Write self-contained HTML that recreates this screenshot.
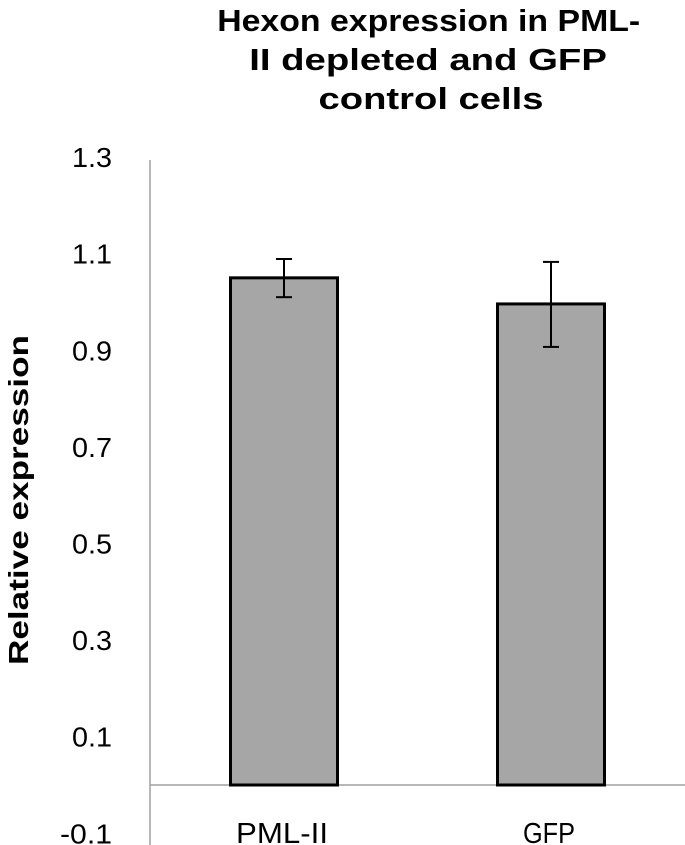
<!DOCTYPE html>
<html><head><meta charset="utf-8"><style>
body{margin:0;background:#fff;}
svg{display:block;font-family:"Liberation Sans",sans-serif;}
</style></head><body>
<svg id="chart" width="685" height="845">
<text font-weight="bold" font-size="31" text-anchor="middle">
<tspan x="433" y="31" textLength="423" lengthAdjust="spacingAndGlyphs">Hexon expression in PML-</tspan>
<tspan x="432" y="70" textLength="357" lengthAdjust="spacingAndGlyphs">II depleted and GFP</tspan>
<tspan x="431" y="109" textLength="225" lengthAdjust="spacingAndGlyphs">control cells</tspan>
</text>
<text font-weight="bold" font-size="28" text-anchor="middle" textLength="330" lengthAdjust="spacingAndGlyphs" transform="translate(28,500) rotate(-90)">Relative expression</text>
<g id="axes"></g><g id="bars"></g>
</svg>
<script>
const categories=["PML-II","GFP"];
const values=[1.05,0.996];
const errLow=[1.01,0.907];
const errHigh=[1.089,1.083];
const yTicks=[-0.1,0.1,0.3,0.5,0.7,0.9,1.1,1.3];
const tickLabels=["-0.1","0.1","0.3","0.5","0.7","0.9","1.1","1.3"];
const NS="http://www.w3.org/2000/svg";
const y=v=>785-v*483;
const x=i=>284+i*267;
const bw=107;
function mk(t,a,p){const e=document.createElementNS(NS,t);for(const k in a)e.setAttribute(k,a[k]);p.appendChild(e);return e;}
const ax=document.getElementById('axes'),bg=document.getElementById('bars');
const yl=mk('line',{x1:150,x2:150,y1:160,y2:845,stroke:'#a0a0a0','stroke-width':1.5},ax);


yTicks.forEach((t,i)=>{const lbl=tickLabels[i];const tx=mk('text',{x:112,y:y(t)+10,'text-anchor':'end','font-size':28,textLength:lbl.length>3?52:40,lengthAdjust:'spacingAndGlyphs'},ax);tx.textContent=lbl;

});
categories.forEach((c,i)=>{
const r=mk('rect',{x:x(i)-bw/2,y:y(values[i]),width:bw,height:y(0)-y(values[i]),fill:'#a6a6a6',stroke:'#000','stroke-width':3},bg);


const g=mk('g',{stroke:'#000','stroke-width':2},bg);


mk('line',{x1:x(i),x2:x(i),y1:y(errHigh[i]),y2:y(errLow[i])},g);
mk('line',{x1:x(i)-8,x2:x(i)+8,y1:y(errHigh[i]),y2:y(errHigh[i])},g);
mk('line',{x1:x(i)-8,x2:x(i)+8,y1:y(errLow[i]),y2:y(errLow[i])},g);
const t=mk('text',{x:x(i)-2,y:843,'text-anchor':'middle','font-size':29,textLength:c.length>3?92:52,lengthAdjust:'spacingAndGlyphs'},bg);t.textContent=c;


});
const zl=mk('line',{x1:150,x2:685,y1:y(0),y2:y(0),stroke:'#a0a0a0','stroke-width':1.5},ax);


</script>
</body></html>
